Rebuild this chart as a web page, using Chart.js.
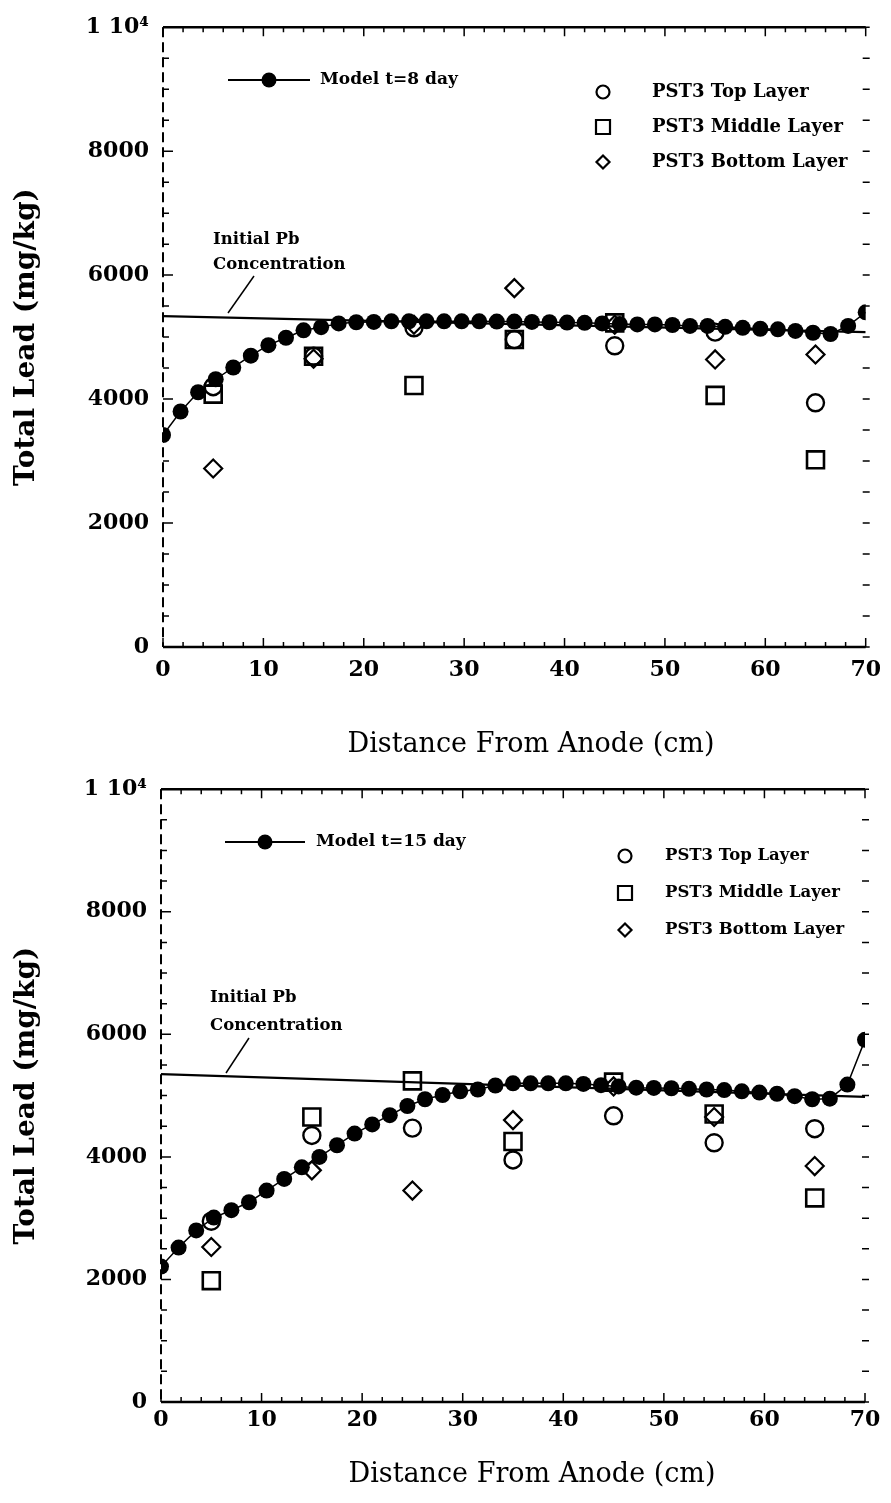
<!DOCTYPE html>
<html>
<head>
<meta charset="utf-8">
<script src="https://cdn.jsdelivr.net/npm/chart.js@4.4.0/dist/chart.umd.min.js"></script>
<style>
  html, body { margin: 0; padding: 0; background: #fff; }
  .box { position: absolute; left: 0; width: 891px; }
</style>
</head>
<body>
<div class="box" style="top:0;height:762px"><canvas id="chartDay8"></canvas></div>
<div class="box" style="top:762px;height:741px"><canvas id="chartDay15"></canvas></div>
<script>
// model grid positions (cm from anode)
const modelX = [0, 1.75, 3.5, 5.25, 7, 8.75, 10.5, 12.25, 14, 15.75, 17.5, 19.25, 21, 22.75, 24.5, 26.25,
  28, 29.75, 31.5, 33.25, 35, 36.75, 38.5, 40.25, 42, 43.75, 45.5, 47.25, 49, 50.75, 52.5, 54.25,
  56, 57.75, 59.5, 61.25, 63, 64.75, 66.5, 68.25, 70];

// Model t=8 day, total lead (mg/kg)
const model8 = [3420, 3800, 4110, 4320, 4510, 4700, 4870, 4990, 5110, 5160, 5220, 5240, 5245, 5255, 5255, 5255,
  5255, 5255, 5255, 5250, 5250, 5245, 5240, 5235, 5230, 5220, 5210, 5205, 5205, 5195, 5180, 5180,
  5165, 5150, 5135, 5125, 5100, 5070, 5050, 5180, 5400];

// Model t=15 day
const model15 = [2210, 2520, 2800, 3010, 3130, 3260, 3450, 3640, 3830, 4000, 4190, 4380, 4530, 4680, 4830, 4940,
  5010, 5070, 5100, 5165, 5200, 5200, 5200, 5200, 5190, 5170, 5150, 5130, 5125, 5120, 5110, 5100,
  5090, 5070, 5050, 5030, 4990, 4940, 4950, 5180, 5910];

// PST3 sampling points
const sampleX = [5, 15, 25, 35, 45, 55, 65];
const top8 = [4200, 4690, 5150, 4960, 4860, 5080, 3940];
const mid8 = [4080, 4690, 4220, 4960, 5230, 4060, 3020];
const bot8 = [2880, 4650, 5200, 5790, 5200, 4640, 4720];
const top15 = [2950, 4350, 4470, 3950, 4670, 4230, 4460];
const mid15 = [1980, 4650, 5240, 4250, 5220, 4700, 3330];
const bot15 = [2530, 3780, 3450, 4600, 5150, 4650, 3850];

// initial Pb concentration line (as drawn)
const initialX = [0, 70];
const initial8 = [5340, 5080];
const initial15 = [5350, 4980];

const xTicks = [0, 10, 20, 30, 40, 50, 60, 70];
const yTicks = [0, 2000, 4000, 6000, 8000, 10000];

const serif = '"DejaVu Serif", "Liberation Serif", serif';

function pts(xs, ys) {
  return xs.map((x, i) => ({ x: x, y: ys[i] }));
}

function drawSymbol(ctx, style, cx, cy, r) {
  ctx.beginPath();
  if (style === 'circle') {
    ctx.arc(cx, cy, r, 0, Math.PI * 2);
  } else if (style === 'rect') {
    ctx.rect(cx - r, cy - r, 2 * r, 2 * r);
  } else {
    ctx.moveTo(cx, cy - r); ctx.lineTo(cx + r, cy); ctx.lineTo(cx, cy + r); ctx.lineTo(cx - r, cy); ctx.closePath();
  }
  ctx.stroke();
}

const decor = {
  id: 'decor',
  beforeDatasetsDraw(chart) {
    const { ctx, chartArea: a, scales: { x, y } } = chart;
    ctx.save();
    ctx.strokeStyle = '#000';
    // top and bottom frame
    ctx.lineWidth = 2.5;
    ctx.beginPath();
    ctx.moveTo(a.left, a.top); ctx.lineTo(a.right, a.top);
    ctx.moveTo(a.left, a.bottom); ctx.lineTo(a.right, a.bottom);
    ctx.stroke();
    // left frame dashed
    ctx.lineWidth = 2;
    ctx.setLineDash([10, 5]);
    ctx.beginPath();
    ctx.moveTo(a.left, a.top); ctx.lineTo(a.left, a.bottom);
    ctx.stroke();
    ctx.setLineDash([]);
    // x ticks
    ctx.lineWidth = 1.5;
    ctx.beginPath();
    for (let v = 0; v <= 70; v += 2) {
      const px = x.getPixelForValue(v);
      const len = v % 10 === 0 ? 9 : 5;
      ctx.moveTo(px, a.bottom); ctx.lineTo(px, a.bottom - len);
      ctx.moveTo(px, a.top); ctx.lineTo(px, a.top + len);
    }
    // y ticks
    for (let v = 0; v <= 10000; v += 500) {
      const py = y.getPixelForValue(v);
      const len = v % 2000 === 0 ? 10 : 6;
      ctx.moveTo(a.left, py); ctx.lineTo(a.left + len, py);
      ctx.moveTo(a.right - 3, py); ctx.lineTo(a.right + 4, py);
    }
    ctx.stroke();
    ctx.restore();
  },
  afterDraw(chart) {
    const o = chart.options.plugins.decor;
    const { ctx } = chart;
    ctx.save();
    ctx.fillStyle = '#000';
    ctx.strokeStyle = '#000';
    ctx.textBaseline = 'middle';
    ctx.textAlign = 'left';

    // model legend
    const m = o.model;
    ctx.lineWidth = 1.8;
    ctx.beginPath();
    ctx.moveTo(m.x1, m.y); ctx.lineTo(m.x2, m.y);
    ctx.stroke();
    ctx.beginPath();
    ctx.arc((m.x1 + m.x2) / 2, m.y, 7.5, 0, Math.PI * 2);
    ctx.fill();
    ctx.font = 'bold 17px ' + serif;
    ctx.fillText(m.text, m.tx, m.y);

    // PST3 legend
    const l = o.layers;
    const styles = ['circle', 'rect', 'diamond'];
    const names = ['PST3 Top Layer', 'PST3 Middle Layer', 'PST3 Bottom Layer'];
    ctx.lineWidth = 2.2;
    ctx.font = 'bold ' + l.size + 'px ' + serif;
    for (let i = 0; i < 3; i++) {
      const yy = l.y + i * l.dy;
      drawSymbol(ctx, styles[i], l.sx, yy, i === 1 ? 7 : 6.5);
      ctx.fillText(names[i], l.tx, yy);
    }

    // initial concentration note
    const n = o.note;
    ctx.font = 'bold 16.5px ' + serif;
    ctx.fillText('Initial Pb', n.x, n.y1);
    ctx.fillText('Concentration', n.x, n.y2);
    ctx.lineWidth = 1.5;
    ctx.beginPath();
    ctx.moveTo(n.lx1, n.ly1); ctx.lineTo(n.lx2, n.ly2);
    ctx.stroke();

    // x axis title
    const t = o.xTitle;
    ctx.textAlign = 'center';
    ctx.font = '27px ' + serif;
    ctx.fillText('Distance From Anode (cm)', t.x, t.y);
    ctx.restore();
  }
};

function buildChart(id, cfg) {
  return new Chart(document.getElementById(id), {
    type: 'scatter',
    data: {
      datasets: [
        { label: 'PST3 Top Layer', data: pts(sampleX, cfg.top), pointStyle: 'circle', pointRadius: 8.5,
          borderWidth: 2.4, borderColor: '#000', backgroundColor: 'rgba(0,0,0,0)', order: 0 },
        { label: 'PST3 Middle Layer', data: pts(sampleX, cfg.mid), pointStyle: 'rect', pointRadius: 12,
          borderWidth: 2.6, borderColor: '#000', backgroundColor: 'rgba(0,0,0,0)', order: 0 },
        { label: 'PST3 Bottom Layer', data: pts(sampleX, cfg.bot), pointStyle: 'rectRot', pointRadius: 9,
          borderWidth: 2.2, borderColor: '#000', backgroundColor: 'rgba(0,0,0,0)', order: 0 },
        { label: cfg.modelLabel, data: pts(modelX, cfg.model), showLine: true, borderColor: '#000',
          borderWidth: 1.5, pointRadius: 8, pointBackgroundColor: '#000', pointBorderWidth: 0,
          tension: 0, order: 1 },
        { label: 'Initial Pb Concentration', data: pts(initialX, cfg.initial), showLine: true,
          borderColor: '#000', borderWidth: 2.2, pointRadius: 0, order: 2 }
      ]
    },
    options: {
      responsive: true,
      maintainAspectRatio: false,
      animation: false,
      layout: { padding: { top: cfg.padTop, right: cfg.padRight, left: 0, bottom: 0 } },
      plugins: {
        legend: { display: false },
        tooltip: { enabled: false },
        decor: cfg.decor
      },
      scales: {
        x: {
          type: 'linear', min: 0, max: 70,
          afterFit: s => { s.height = cfg.xHeight; },
          afterBuildTicks: s => { s.ticks = xTicks.map(v => ({ value: v })); },
          grid: { display: false, drawTicks: false },
          border: { display: false },
          ticks: { color: '#000', padding: cfg.xPad, maxRotation: 0, autoSkip: false,
            font: { family: serif, size: 22, weight: 'bold' } },
          title: { display: false }
        },
        y: {
          type: 'linear', min: 0, max: 10000,
          afterFit: s => { s.width = cfg.yWidth; },
          afterBuildTicks: s => { s.ticks = yTicks.map(v => ({ value: v })); },
          grid: { display: false, drawTicks: false },
          border: { display: false },
          ticks: { color: '#000', padding: 14,
            callback: v => v === 10000 ? '1 10\u2074' : String(v),
            font: { family: serif, size: 22, weight: 'bold' } },
          title: { display: true, text: 'Total Lead (mg/kg)', color: '#000',
            font: { family: serif, size: 28, weight: 'bold' }, padding: { top: 10, bottom: 0 } }
        }
      }
    },
    plugins: [decor]
  });
}

buildChart('chartDay8', {
  model: model8, top: top8, mid: mid8, bot: bot8, initial: initial8, modelLabel: 'Model t=8 day',
  padTop: 22, padRight: 23, yWidth: 163, xHeight: 115, xPad: 10,
  decor: {
    model: { x1: 228, x2: 310, y: 80, tx: 320, text: 'Model t=8 day' },
    layers: { sx: 603, tx: 652, y: 92, dy: 35, size: 18 },
    note: { x: 213, y1: 240, y2: 265, lx1: 254, ly1: 276, lx2: 228, ly2: 313 },
    xTitle: { x: 531, y: 745 }
  }
});

buildChart('chartDay15', {
  model: model15, top: top15, mid: mid15, bot: bot15, initial: initial15, modelLabel: 'Model t=15 day',
  padTop: 25, padRight: 26, yWidth: 161, xHeight: 101, xPad: 5,
  decor: {
    model: { x1: 225, x2: 305, y: 80, tx: 316, text: 'Model t=15 day' },
    layers: { sx: 625, tx: 665, y: 94, dy: 37, size: 16.5 },
    note: { x: 210, y1: 236, y2: 264, lx1: 249, ly1: 276, lx2: 226, ly2: 311 },
    xTitle: { x: 532, y: 713 }
  }
});
</script>
</body>
</html>
